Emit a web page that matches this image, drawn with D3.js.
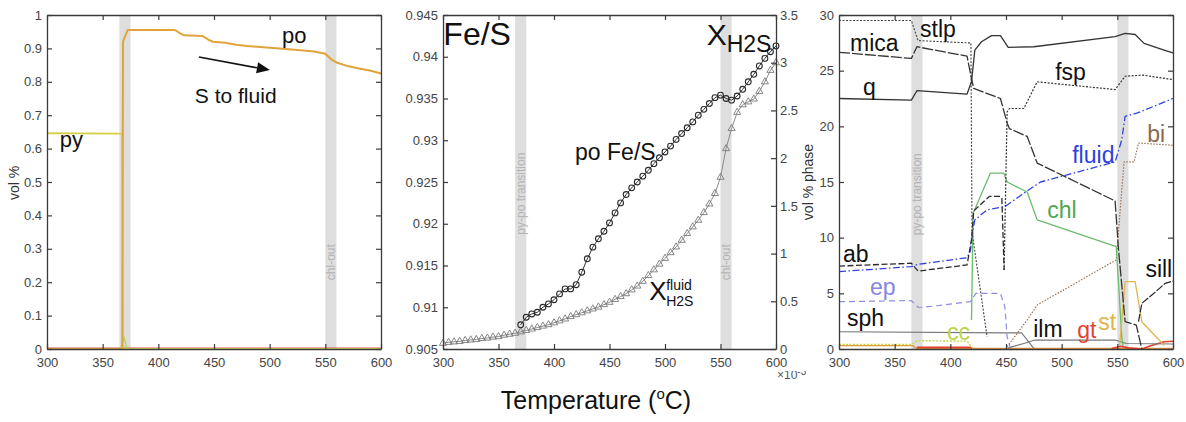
<!DOCTYPE html>
<html>
<head>
<meta charset="utf-8">
<script src="https://cdn.jsdelivr.net/npm/d3@7"></script>
<style>
  body { margin: 0; background: #fff; }
  svg { display: block; font-family: "Liberation Sans", Arial, Helvetica, sans-serif; }
</style>
</head>
<body>
<svg id="chart" width="1186" height="422"></svg>
<script>
// ---------- shared axis ticks ----------
const tempTicks = [300, 350, 400, 450, 500, 550, 600];
const volFracTicks = [0, 0.1, 0.2, 0.3, 0.4, 0.5, 0.6, 0.7, 0.8, 0.9, 1];
const feSTicks = [0.905, 0.91, 0.915, 0.92, 0.925, 0.93, 0.935, 0.94, 0.945];
const h2sTicks = [0, 0.5, 1, 1.5, 2, 2.5, 3, 3.5];
const phaseTicks = [0, 5, 10, 15, 20, 25, 30];

// reaction intervals shaded in every panel
const transitionBand = [365, 375];
const chlOutBand = [550, 560];

// ---------- panel 1: sulphide modes (vol %) ----------
const pyMode = [[300, 0.646], [367.5, 0.645], [368.2, 0], [600, 0]];
const poMode = [[300, 0], [367.6, 0], [368.3, 0.92], [370, 0.935], [372.5, 0.955], [415, 0.955],
  [420, 0.944], [423, 0.939], [440, 0.937], [445, 0.926], [449, 0.92], [460, 0.917], [470, 0.911],
  [480, 0.907], [500, 0.902], [520, 0.897], [540, 0.891], [550, 0.884], [555, 0.868], [560, 0.858],
  [570, 0.847], [580, 0.840], [590, 0.834], [600, 0.825]];
const minorSulphide = [[300, 0], [366, 0], [369, 0.037], [372, 0], [600, 0]];
const baseSulphide = [[300, 0.002], [600, 0.002]];

// ---------- panel 2: pyrrhotite Fe/S and fluid H2S ----------
const feSTemps = [370, 375, 380, 385, 390, 395, 400, 405, 410, 415, 420, 425, 430, 435, 440, 445, 450,
  455, 460, 465, 470, 475, 480, 485, 490, 495, 500, 505, 510, 515, 520, 525, 530, 535, 540, 545, 550,
  555, 560, 565, 570, 575, 580, 585, 590, 595, 600];
const feSValues = [0.9079, 0.9088, 0.9092, 0.9094, 0.9100, 0.9104, 0.9109, 0.9116, 0.9122, 0.9122,
  0.9127, 0.9142, 0.9158, 0.9172, 0.9182, 0.9191, 0.9201, 0.9213, 0.9225, 0.9235, 0.9243, 0.9250,
  0.9257, 0.9264, 0.9272, 0.9279, 0.9286, 0.9293, 0.9301, 0.9308, 0.9315, 0.9322, 0.9330, 0.9337,
  0.9344, 0.9351, 0.9354, 0.9350, 0.9348, 0.9353, 0.9361, 0.9370, 0.9379, 0.9389, 0.9398, 0.9406, 0.9413];
const h2sTemps = [300, 305, 310, 315, 320, 325, 330, 335, 340, 345, 350, 355, 360, 365, 370, 375, 380,
  385, 390, 395, 400, 405, 410, 415, 420, 425, 430, 435, 440, 445, 450, 455, 460, 465, 470, 475, 480,
  485, 490, 495, 500, 505, 510, 515, 520, 525, 530, 535, 540, 545, 550, 555, 560, 565, 570, 575, 580,
  585, 590, 595, 600];
const h2sValues = [0.06, 0.07, 0.075, 0.08, 0.09, 0.095, 0.10, 0.11, 0.115, 0.125, 0.13, 0.145, 0.155,
  0.165, 0.18, 0.195, 0.21, 0.225, 0.24, 0.255, 0.275, 0.295, 0.315, 0.34, 0.36, 0.38, 0.40, 0.42, 0.44,
  0.465, 0.49, 0.52, 0.55, 0.58, 0.62, 0.66, 0.71, 0.77, 0.83, 0.89, 0.95, 1.01, 1.07, 1.14, 1.21, 1.28,
  1.35, 1.43, 1.52, 1.63, 1.80, 2.10, 2.31, 2.48, 2.56, 2.59, 2.62, 2.70, 2.80, 2.92, 3.00];

// ---------- panel 3: phase modes (vol % phase) ----------
const quartz = [[300, 22.5], [365, 22.35], [370, 23.2], [415, 22.9], [419, 24.0], [422, 26.85], [428, 27.6],
  [437, 28.15], [445, 28.15], [452, 27.1], [475, 27.15], [548, 28.05], [557, 28.35], [566, 28.25],
  [574, 27.45], [592, 26.85], [600, 26.6]];
const mica = [[300, 26.65], [365, 26.1], [370, 27.15], [415, 26.3], [419, 24.3], [421, 23.4], [445, 22.5],
  [451, 20.3], [453, 19.8], [469, 19.1], [478, 16.7], [548, 13.3], [551, 9.0], [557, 2.45], [567, 2.15],
  [572, 0]];
const stilpnomelane = [[300, 29.5], [365, 29.5], [371, 27.7], [415, 27.5], [418.5, 27.5], [419.5, 10.5],
  [433, 1.1]];
const feldspar = [[448.3, 7.1], [451, 21.3], [453, 21.6], [466, 21.6], [478, 24.0], [548, 23.3],
  [557, 24.5], [573, 24.6], [600, 24.2]];
const albite = [[300, 7.45], [365, 7.7], [371, 7.0], [415, 7.55], [419, 9.8], [421, 12.4], [435, 13.7],
  [445, 13.7], [446.3, 13.5], [448.3, 7.1]];
const fluid = [[300, 6.95], [365, 7.4], [371, 7.6], [415, 8.2], [418, 8.8], [420, 10.5], [422, 11.6],
  [433, 12.5], [449, 12.8], [469, 14.2], [481, 15.0], [548, 16.8], [554, 18.8], [557, 20.9], [568, 21.2],
  [600, 22.5]];
const chlorite = [[419, 2.6], [420.5, 12.2], [436, 15.8], [448, 15.8], [451, 15.0], [469, 14.1],
  [478, 11.6], [549, 9.2], [554, 1.1], [555, 0.3]];
const epidote = [[300, 4.25], [365, 4.35], [371, 3.75], [376, 3.75], [418, 4.25], [423, 5.0], [445, 5.0],
  [449, 3.8], [451, 1.1], [454, 0.1]];
const biotite = [[451, 0.2], [469, 2.6], [478, 3.95], [549, 8.0], [556, 16.8], [565, 16.8], [569, 18.5],
  [600, 18.3]];
const sphene = [[300, 1.55], [450, 1.45], [464, 1.45], [475, 0.05]];
const ilmenite = [[452, 0.1], [466, 0.5], [476, 0.8], [548, 0.8], [558, 0.5], [600, 0.45]];
const calcite = [[300, 0.4], [365, 0.4], [371, 0.75], [415, 0.7], [419, 0.2], [421, 0]];
const garnet = [[370, 0.15], [418, 0.15], [420, 0], [null, null], [545, 0.05], [553, 0.25], [560, 0.1],
  [572, 0], [580, 0.3], [592, 0.65], [600, 0.7]];
const sulphide3 = [[300, 0.3], [366, 0.3], [370, 0.05], [600, 0.05]];
const staurolite = [[552, 0.3], [553, 1.4], [557, 6.05], [566, 6.05], [572, 2.45], [589, 0.65], [592, 0.3]];
const sillimanite = [[569, 2.45], [572, 4.1], [581, 4.85], [593, 5.9], [600, 6.1]];

// ---------- layout ----------
const svg = d3.select("#chart");
const TOP = 15, BOT = 349;
const AX = "#3a3a3a", TICKTXT = "#444";

function panel(x0, x1, yDomain) {
  const x = d3.scaleLinear().domain([300, 600]).range([x0, x1]);
  const y = d3.scaleLinear().domain(yDomain).range([BOT, TOP]);
  const g = svg.append("g");
  const bands = g.append("g");
  [transitionBand, chlOutBand].forEach(b => {
    bands.append("rect").attr("x", x(b[0])).attr("y", TOP)
      .attr("width", x(b[1]) - x(b[0])).attr("height", BOT - TOP).attr("fill", "#dedede");
  });
  return { x, y, g, marks: g.append("g") };
}

function bandLabel(p, t, v, text) {
  p.g.append("text").attr("transform", `translate(${p.x(t) + 4},${p.y(v)}) rotate(-90)`)
    .attr("text-anchor", "middle").attr("font-size", 12).attr("fill", "#b4b4b4").text(text);
}

function styleAxis(sel) {
  sel.selectAll(".domain").attr("stroke", AX).attr("stroke-width", 1.3);
  sel.selectAll(".tick line").attr("stroke", AX).attr("stroke-width", 1.2);
  sel.selectAll(".tick text").attr("fill", TICKTXT).attr("font-size", 13)
    .attr("font-family", '"Liberation Sans", Arial, sans-serif');
}

function axes(p, yTicks, yFmt, rightAxis) {
  const [x0, x1] = p.x.range();
  const a = p.g.append("g");
  styleAxis(a.append("g").attr("transform", `translate(0,${BOT})`)
    .call(d3.axisBottom(p.x).tickValues(tempTicks).tickSizeInner(-5).tickSizeOuter(0).tickPadding(9)));
  styleAxis(a.append("g").attr("transform", `translate(0,${TOP})`)
    .call(d3.axisTop(p.x).tickValues(tempTicks).tickSizeInner(-5).tickSizeOuter(0).tickFormat("")));
  styleAxis(a.append("g").attr("transform", `translate(${x0},0)`)
    .call(d3.axisLeft(p.y).tickValues(yTicks).tickFormat(yFmt).tickSizeInner(-5).tickSizeOuter(0).tickPadding(5)));
  if (rightAxis) {
    styleAxis(a.append("g").attr("transform", `translate(${x1},0)`)
      .call(d3.axisRight(rightAxis.scale).tickValues(rightAxis.ticks).tickFormat(rightAxis.fmt)
        .tickSizeInner(-5).tickSizeOuter(0).tickPadding(4)));
  } else {
    styleAxis(a.append("g").attr("transform", `translate(${x1},0)`)
      .call(d3.axisRight(p.y).tickValues(yTicks).tickSizeInner(-5).tickSizeOuter(0).tickFormat("")));
  }
}

function drawLine(p, data, color, width, dash) {
  const line = d3.line().defined(d => d[0] != null).x(d => p.x(d[0])).y(d => p.y(d[1]));
  p.marks.append("path").datum(data).attr("d", line).attr("fill", "none")
    .attr("stroke", color).attr("stroke-width", width).attr("stroke-dasharray", dash || null)
    .attr("stroke-linejoin", "round");
}

function label(p, t, v, text, size, color) {
  return p.g.append("text").attr("x", p.x(t)).attr("y", p.y(v))
    .attr("font-size", size).attr("fill", color || "#111").text(text);
}

// ================= panel 1 =================
const p1 = panel(47, 381, [0, 1]);
bandLabel(p1, 555, 0.26, "chl-out");
drawLine(p1, baseSulphide, "#d9534f", 1.6);
drawLine(p1, minorSulphide, "#b8d65a", 1.4);
drawLine(p1, pyMode, "#d6cf48", 1.8);
drawLine(p1, poMode, "#e0a43a", 2);
axes(p1, volFracTicks, d => (d === 0 || d === 1) ? String(d) : d.toFixed(1));
label(p1, 511, 0.916, "po", 22);
label(p1, 432.8, 0.7365, "S to fluid", 21);
label(p1, 311.4, 0.605, "py", 22);
// arrow indicating sulphur loss to the fluid
{
  const xa = p1.x(436.4), ya = p1.y(0.874), xb = p1.x(500.2), yb = p1.y(0.835);
  const ang = Math.atan2(yb - ya, xb - xa), L = 13, Wd = 5.5;
  const bx = xb - L * Math.cos(ang), by = yb - L * Math.sin(ang);
  p1.g.append("line").attr("x1", xa).attr("y1", ya).attr("x2", bx).attr("y2", by)
    .attr("stroke", "#111").attr("stroke-width", 1.6);
  p1.g.append("path").attr("fill", "#111").attr("d",
    `M${xb},${yb}L${bx - Wd * Math.sin(ang)},${by + Wd * Math.cos(ang)}L${bx + Wd * Math.sin(ang)},${by - Wd * Math.cos(ang)}Z`);
}
svg.append("text").attr("transform", `translate(19,183) rotate(-90)`).attr("text-anchor", "middle")
  .attr("font-size", 14).attr("fill", "#333").text("vol %");

// ================= panel 2 =================
const p2 = panel(443, 776, [0.905, 0.945]);
const yR = d3.scaleLinear().domain([0, 3.5]).range([BOT, TOP]);
bandLabel(p2, 370, 0.9236, "py-po transition");
bandLabel(p2, 555, 0.9154, "chl-out");
// fluid H2S (right axis)
const h2sPts = h2sTemps.map((t, i) => [t, h2sValues[i]]);
p2.marks.append("path").datum(h2sPts)
  .attr("d", d3.line().x(d => p2.x(d[0])).y(d => yR(d[1])))
  .attr("fill", "none").attr("stroke", "#8a8a8a").attr("stroke-width", 1);
p2.marks.append("g").selectAll("path").data(h2sPts).join("path")
  .attr("transform", d => `translate(${p2.x(d[0])},${yR(d[1])})`)
  .attr("d", d3.symbol(d3.symbolTriangle, 22))
  .attr("fill", "none").attr("stroke", "#7a7a7a").attr("stroke-width", 0.9);
// pyrrhotite Fe/S (left axis)
const feSPts = feSTemps.map((t, i) => [t, feSValues[i]]);
drawLine(p2, feSPts, "#333", 1);
p2.marks.append("g").selectAll("circle").data(feSPts).join("circle")
  .attr("cx", d => p2.x(d[0])).attr("cy", d => p2.y(d[1])).attr("r", 2.9)
  .attr("fill", "none").attr("stroke", "#2a2a2a").attr("stroke-width", 1.1);
axes(p2, feSTicks, d => d3.format("")(+d.toFixed(3)), { scale: yR, ticks: h2sTicks, fmt: d => String(d) });
label(p2, 300.3, 0.9414, "Fe/S", 32);
{
  const t = label(p2, 537.5, 0.9414, "X", 30);
  t.append("tspan").attr("font-size", 23).attr("dy", 7).text("H2S");
}
label(p2, 419, 0.9276, "po Fe/S", 23);
{
  const xs = p2.x(485.7), ys = p2.y(0.9109);
  p2.g.append("text").attr("x", xs).attr("y", ys).attr("font-size", 26).attr("fill", "#111").text("X");
  p2.g.append("text").attr("x", xs + 17).attr("y", ys - 10).attr("font-size", 14).attr("fill", "#111").text("fluid");
  p2.g.append("text").attr("x", xs + 17).attr("y", ys + 6).attr("font-size", 14).attr("fill", "#111").text("H2S");
}
// exponent of the right axis, partly hidden below the plot
{
  svg.append("clipPath").attr("id", "expClip").append("rect")
    .attr("x", 740).attr("y", 371).attr("width", 90).attr("height", 20);
  const e = svg.append("text").attr("clip-path", "url(#expClip)").attr("x", 777).attr("y", 379)
    .attr("font-size", 12).attr("fill", "#555").text("×10");
  e.append("tspan").attr("dy", -4).attr("font-size", 10).text("-3");
}

// ================= panel 3 =================
const p3 = panel(839, 1173, [0, 30]);
bandLabel(p3, 370, 13.9, "py-po transition");
const phaseLines = [
  [sulphide3, "#e8923a", 1.3, null],
  [garnet, "#e0412f", 1.6, null],
  [calcite, "#c4d84a", 1.4, "2,1.5"],
  [sphene, "#777", 1.1, null],
  [ilmenite, "#777", 1.1, null],
  [epidote, "#8b8de6", 1.2, "6,4"],
  [biotite, "#9a7258", 1.2, "1.5,1.5"],
  [chlorite, "#6cba6c", 1.3, null],
  [fluid, "#3043df", 1.3, "7,2.5,1.5,2.5"],
  [albite, "#2b2b2b", 1.3, "6,2.5"],
  [staurolite, "#e2b64e", 1.3, null],
  [sillimanite, "#222", 1.2, "8,1.5"],
  [feldspar, "#333", 1.2, "2,1.5"],
  [stilpnomelane, "#444", 1.1, "2,1.5"],
  [mica, "#333", 1.3, "11,2"],
  [quartz, "#333", 1.3, null]
];
phaseLines.forEach(([d, c, w, dash]) => drawLine(p3, d, c, w, dash));
axes(p3, phaseTicks, d => String(d));
label(p3, 309.9, 26.77, "mica", 23);
label(p3, 372.8, 28.02, "stlp", 23);
label(p3, 321.6, 22.8, "q", 23);
label(p3, 494.2, 24.16, "fsp", 23);
label(p3, 509.5, 16.71, "fluid", 23, "#2b3ee0");
label(p3, 576.9, 18.59, "bi", 23, "#8b6a50");
label(p3, 487, 11.77, "chl", 23, "#4ea84e");
label(p3, 303.6, 7.81, "ab", 23);
label(p3, 327.9, 4.85, "ep", 23, "#8585e3");
label(p3, 307.2, 2.07, "sph", 23);
label(p3, 397.1, 0.81, "cc", 23, "#bcd44a");
label(p3, 474.4, 1.08, "ilm", 23);
label(p3, 514, 0.99, "gt", 23, "#e0452f");
label(p3, 532.9, 1.71, "st", 23, "#e0b448");
label(p3, 575.2, 6.47, "sill", 23);
svg.append("text").attr("transform", `translate(813,182) rotate(-90)`).attr("text-anchor", "middle")
  .attr("font-size", 14).attr("fill", "#333").text("vol % phase");

// ---------- shared x-axis title ----------
{
  const t = svg.append("text").attr("x", 596).attr("y", 409).attr("text-anchor", "middle")
    .attr("font-size", 25).attr("fill", "#111");
  t.append("tspan").text("Temperature (");
  t.append("tspan").attr("font-size", 15).attr("dy", -10).text("o");
  t.append("tspan").attr("dy", 10).text("C)");
}
</script>
</body>
</html>
